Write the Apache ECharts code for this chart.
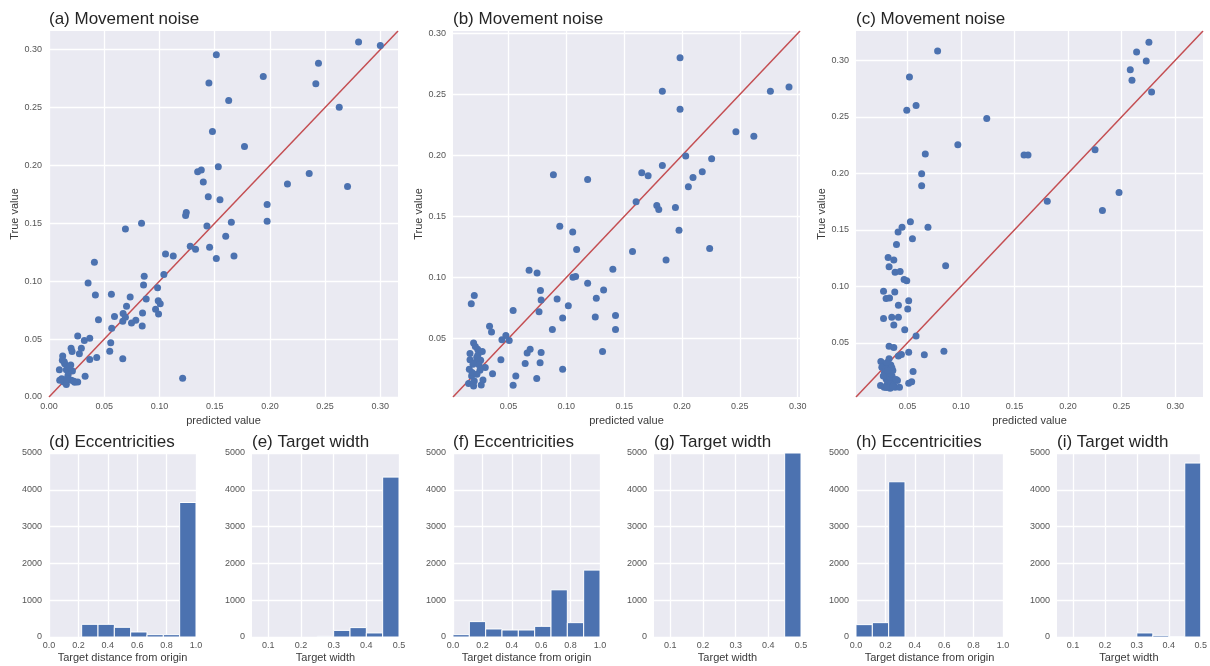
<!DOCTYPE html>
<html>
<head>
<meta charset="utf-8">
<script src="https://cdn.jsdelivr.net/npm/echarts@6/dist/echarts.min.js"></script>
<style>
  html, body { margin: 0; padding: 0; background: #fff; }
  #chart { width: 1210px; height: 666px; }
</style>
</head>
<body>
<div id="chart"></div>
<script>
// scatter data: [predicted, true]
const pointsA = [
  [0.2803,0.3066],[0.300,0.3035],[0.1515,0.2954],[0.244,0.2882],[0.1448,0.2712],[0.194,0.2767],
  [0.2416,0.2704],[0.1627,0.256],[0.2628,0.2502],[0.148,0.2292],[0.177,0.2162],[0.1533,0.1987],
  [0.1346,0.1944],[0.1379,0.196],[0.1397,0.1857],[0.2356,0.1929],[0.2159,0.184],[0.2703,0.1817],
  [0.1442,0.1728],[0.1548,0.1702],[0.1975,0.1661],[0.1243,0.1592],[0.1237,0.1566],[0.0838,0.15],
  [0.0692,0.1451],[0.1975,0.1517],[0.1651,0.1509],[0.143,0.1477],[0.16,0.1388],[0.1279,0.1301],
  [0.1327,0.1276],[0.1454,0.1293],[0.1515,0.1195],[0.1675,0.1218],[0.1055,0.1235],[0.1125,0.1218],
  [0.0411,0.1163],[0.104,0.1057],[0.0862,0.1042],[0.0354,0.0985],[0.0856,0.0967],[0.0983,0.0944],
  [0.042,0.0881],[0.0565,0.0887],[0.0735,0.0864],[0.088,0.0847],[0.0989,0.0832],[0.1007,0.0806],
  [0.0702,0.0783],[0.0965,0.0757],[0.0992,0.0717],[0.0847,0.0726],[0.0671,0.072],[0.0593,0.0694],
  [0.0692,0.0688],[0.0448,0.0668],[0.0668,0.0654],[0.0786,0.0662],[0.0747,0.0639],[0.0844,0.0613],
  [0.0568,0.0593],[0.026,0.0527],[0.0369,0.0507],[0.032,0.0487],[0.0559,0.0469],[0.02,0.042],
  [0.0293,0.042],[0.0209,0.0392],[0.0275,0.0374],[0.055,0.0394],[0.0124,0.0354],[0.0121,0.0317],
  [0.0369,0.0323],[0.0432,0.034],[0.0668,0.0331],[0.0142,0.0288],[0.0197,0.0276],[0.0094,0.0236],
  [0.0157,0.0236],[0.0212,0.0225],[0.0327,0.0179],[0.121,0.0161],[0.0097,0.0144],[0.0133,0.013],
  [0.0157,0.0109],[0.0203,0.0144],[0.0233,0.0127],[0.026,0.013],[0.0172,0.0187],[0.0115,0.0158],
  [0.0187,0.0259],[0.0163,0.0158],[0.0138,0.0305],[0.0225,0.0135]
];
const pointsB = [
  [0.1983,0.28],[0.183,0.2526],[0.1983,0.2378],[0.2764,0.2526],[0.2925,0.2562],[0.2466,0.2195],
  [0.2621,0.2157],[0.2032,0.1995],[0.2256,0.1973],[0.183,0.1918],[0.0888,0.1842],[0.1184,0.1803],
  [0.1652,0.1858],[0.1707,0.1833],[0.2175,0.1866],[0.2095,0.182],[0.2055,0.1743],[0.1603,0.162],
  [0.1782,0.159],[0.1799,0.1557],[0.1943,0.1573],[0.0943,0.142],[0.1055,0.1373],[0.1974,0.1387],
  [0.1089,0.1228],[0.1572,0.1212],[0.2239,0.1237],[0.1862,0.1143],[0.1402,0.1067],[0.0678,0.1059],
  [0.0747,0.1037],[0.1057,0.1001],[0.108,0.1007],[0.1184,0.0952],[0.1322,0.0897],[0.0776,0.0892],
  [0.0782,0.0815],[0.092,0.0823],[0.1259,0.0829],[0.1017,0.0768],[0.0204,0.0851],[0.0178,0.0785],
  [0.054,0.073],[0.0764,0.0719],[0.1425,0.0689],[0.125,0.0675],[0.0968,0.0667],[0.0336,0.0599],
  [0.0353,0.0552],[0.0879,0.0574],[0.1425,0.0574],[0.0477,0.0525],[0.0443,0.0489],[0.0506,0.0484],
  [0.0198,0.0462],[0.0213,0.0434],[0.0687,0.0412],[0.0661,0.038],[0.0782,0.0385],[0.1313,0.0393],
  [0.0273,0.0393],[0.0167,0.0377],[0.0236,0.0366],[0.0434,0.0325],[0.0167,0.0325],[0.0213,0.0303],
  [0.0259,0.0322],[0.0644,0.0295],[0.0773,0.03],[0.0299,0.0262],[0.0161,0.0248],[0.0253,0.024],
  [0.0968,0.0248],[0.0362,0.021],[0.0563,0.0193],[0.0744,0.0171],[0.0181,0.0193],[0.0279,0.016],
  [0.0155,0.013],[0.0198,0.0111],[0.0264,0.0119],[0.054,0.0117],[0.0227,0.0207],[0.0204,0.0152],
  [0.0193,0.0289],[0.0233,0.0412],[0.0225,0.0345],[0.0185,0.022],[0.0245,0.0285]
];
const pointsC = [
  [0.0782,0.3083],[0.2755,0.316],[0.264,0.3074],[0.273,0.2994],[0.2581,0.2917],[0.2597,0.2825],
  [0.278,0.2719],[0.0519,0.2852],[0.0581,0.26],[0.0494,0.2559],[0.1241,0.2485],[0.0971,0.2254],
  [0.0667,0.2171],[0.1589,0.2162],[0.1626,0.2162],[0.2252,0.2209],[0.0633,0.1996],[0.0633,0.1889],
  [0.1806,0.1753],[0.2476,0.183],[0.2321,0.167],[0.0528,0.1572],[0.045,0.1522],[0.0692,0.1522],
  [0.0413,0.148],[0.0547,0.1421],[0.0398,0.1371],[0.032,0.1255],[0.0373,0.1232],[0.0329,0.1172],
  [0.0857,0.1181],[0.0385,0.1125],[0.0432,0.1131],[0.0469,0.106],[0.0494,0.1048],[0.0277,0.0956],
  [0.0382,0.095],[0.0301,0.0891],[0.0333,0.0897],[0.0512,0.0873],[0.0416,0.0832],[0.0503,0.0799],
  [0.0277,0.0716],[0.0354,0.0725],[0.0416,0.0725],[0.0373,0.0657],[0.0475,0.0616],[0.0581,0.0559],
  [0.0329,0.047],[0.0373,0.0459],[0.0416,0.0384],[0.0444,0.0396],[0.0512,0.0417],[0.0658,0.0393],
  [0.0841,0.0426],[0.0329,0.0358],[0.0252,0.0334],[0.0301,0.0313],[0.0345,0.0304],[0.0261,0.0284],
  [0.0364,0.0254],[0.0553,0.0245],[0.0286,0.0239],[0.0323,0.0225],[0.0357,0.0204],[0.0407,0.0165],
  [0.0301,0.018],[0.054,0.0156],[0.0512,0.0142],[0.0249,0.0121],[0.0283,0.0106],[0.0339,0.0097],
  [0.0385,0.0106],[0.0426,0.0106],[0.0314,0.0142],[0.0348,0.015],[0.0295,0.0269],[0.0336,0.0195],
  [0.037,0.0127],[0.031,0.0325],[0.0355,0.028],[0.0275,0.0205],[0.0395,0.0175],[0.0305,0.0105],
  [0.0365,0.0112],[0.0345,0.0225],[0.0315,0.0255]
];

// histogram bins and counts
const distEdges = [0, 1/9, 2/9, 3/9, 4/9, 5/9, 6/9, 7/9, 8/9, 1];
const widthEdges = [0.05, 0.10, 0.15, 0.20, 0.25, 0.30, 0.35, 0.40, 0.45, 0.50];
const countsD = [0, 0, 345, 345, 264, 136, 64, 64, 3655];
const countsE = [0, 0, 0, 0, 18, 180, 255, 110, 4345];
const countsF = [64, 418, 218, 190, 190, 290, 1282, 390, 1818];
const countsG = [0, 0, 0, 0, 0, 0, 0, 0, 5000];
const countsH = [336, 390, 4218, 0, 0, 0, 0, 0, 0];
const countsI = [0, 0, 0, 0, 0, 110, 45, 10, 4727];

const scatterTicks = [0.05, 0.10, 0.15, 0.20, 0.25, 0.30];
const scatterTicksA = [0.00, 0.05, 0.10, 0.15, 0.20, 0.25, 0.30];
const distTicks = [0.0, 0.2, 0.4, 0.6, 0.8, 1.0];
const widthTicks = [0.1, 0.2, 0.3, 0.4, 0.5];

const titlesTop = ['(a) Movement noise', '(b) Movement noise', '(c) Movement noise'];
const titlesBottom = ['(d) Eccentricities', '(e) Target width', '(f) Eccentricities',
                      '(g) Target width', '(h) Eccentricities', '(i) Target width'];

const BLUE = '#4C72B0';
const RED = '#C44E52';
const FONT = 'Liberation Sans';

const chart = echarts.init(document.getElementById('chart'));

const grids = [];
const xAxes = [];
const yAxes = [];
const series = [];
const titles = [];

function axisBase(ticks, min, max, digits, name, nameGap) {
  return {
    type: 'value',
    min: min,
    max: max,
    name: name,
    nameLocation: 'middle',
    nameGap: nameGap,
    nameTextStyle: { color: '#3a3a3a', fontSize: 11, fontFamily: FONT },
    axisLine: { show: false },
    axisTick: { show: false, customValues: ticks },
    axisLabel: {
      customValues: ticks,
      color: '#555',
      fontSize: 9,
      fontFamily: FONT,
      formatter: v => v.toFixed(digits)
    },
    splitLine: { show: true, lineStyle: { color: '#fff', width: 1.3 } }
  };
}

// top row: scatter plots
const scatterSets = [
  { pts: pointsA, left: 49, width: 349, lo: 0, hi: 0.316, ticks: scatterTicksA },
  { pts: pointsB, left: 453, width: 347, lo: 0.002, hi: 0.302, ticks: scatterTicks },
  { pts: pointsC, left: 856, width: 347, lo: 0.002, hi: 0.326, ticks: scatterTicks }
];

scatterSets.forEach((s, i) => {
  grids.push({ left: s.left, top: 31, width: s.width, height: 366, backgroundColor: '#EAEAF2', show: true, borderWidth: 0 });
  const xa = axisBase(s.ticks, s.lo, s.hi, 2, 'predicted value', 16);
  xa.gridIndex = i;
  xa.axisLabel.margin = 5;
  const ya = axisBase(s.ticks, s.lo, s.hi, 2, 'True value', 29);
  ya.gridIndex = i;
  ya.axisLabel.margin = 7;
  xAxes.push(xa);
  yAxes.push(ya);
  series.push({
    type: 'line',
    xAxisIndex: i, yAxisIndex: i,
    data: [[s.lo, s.lo], [s.hi, s.hi]],
    symbol: 'none',
    lineStyle: { color: RED, width: 1.5 },
    z: 3,
    silent: true
  });
  series.push({
    type: 'scatter',
    xAxisIndex: i, yAxisIndex: i,
    data: s.pts,
    symbolSize: 7,
    itemStyle: { color: BLUE, opacity: 1 },
    z: 4
  });
  titles.push({
    text: titlesTop[i], left: s.left, top: 11, padding: 0,
    textStyle: { fontSize: 17, fontWeight: 'normal', color: '#262626', fontFamily: FONT }
  });
});

// bottom row: histograms
const histSets = [
  { counts: countsD, edges: distEdges, left: 49, ticks: distTicks, lo: 0, hi: 1, name: 'Target distance from origin' },
  { counts: countsE, edges: widthEdges, left: 252, ticks: widthTicks, lo: 0.05, hi: 0.5, name: 'Target width' },
  { counts: countsF, edges: distEdges, left: 453, ticks: distTicks, lo: 0, hi: 1, name: 'Target distance from origin' },
  { counts: countsG, edges: widthEdges, left: 654, ticks: widthTicks, lo: 0.05, hi: 0.5, name: 'Target width' },
  { counts: countsH, edges: distEdges, left: 856, ticks: distTicks, lo: 0, hi: 1, name: 'Target distance from origin' },
  { counts: countsI, edges: widthEdges, left: 1057, ticks: widthTicks, lo: 0.05, hi: 0.5, name: 'Target width' }
];

histSets.forEach((h, k) => {
  const gi = 3 + k;
  grids.push({ left: h.left, top: 453, width: 147, height: 184, backgroundColor: '#EAEAF2', show: true, borderWidth: 0 });
  const xa = axisBase(h.ticks, h.lo, h.hi, 1, h.name, 15);
  xa.gridIndex = gi;
  xa.axisLabel.margin = 4;
  const ya = {
    type: 'value', gridIndex: gi, min: 0, max: 5000, interval: 1000,
    axisLine: { show: false }, axisTick: { show: false },
    axisLabel: { color: '#555', fontSize: 9, fontFamily: FONT, margin: 7, formatter: v => String(v) },
    splitLine: { show: true, lineStyle: { color: '#fff', width: 1.3 } }
  };
  xAxes.push(xa);
  yAxes.push(ya);
  const binData = h.counts.map((c, j) => [h.edges[j], h.edges[j + 1], c]);
  series.push({
    type: 'custom',
    xAxisIndex: gi, yAxisIndex: gi,
    data: binData,
    encode: { x: [0, 1], y: 2 },
    renderItem: (params, api) => {
      if (api.value(2) <= 0) return null;
      const p0 = api.coord([api.value(0), 0]);
      const p1 = api.coord([api.value(1), api.value(2)]);
      return {
        type: 'rect',
        shape: { x: p0[0], y: p1[1], width: p1[0] - p0[0], height: p0[1] - p1[1] },
        style: { fill: BLUE, stroke: '#fff', lineWidth: 1 }
      };
    },
    z: 3
  });
  titles.push({
    text: titlesBottom[k], left: h.left, top: 434, padding: 0,
    textStyle: { fontSize: 17, fontWeight: 'normal', color: '#262626', fontFamily: FONT }
  });
});

const option = {
  animation: false,
  backgroundColor: '#fff',
  title: titles,
  grid: grids,
  xAxis: xAxes,
  yAxis: yAxes,
  series: series
};

option && chart.setOption(option);
</script>
</body>
</html>
